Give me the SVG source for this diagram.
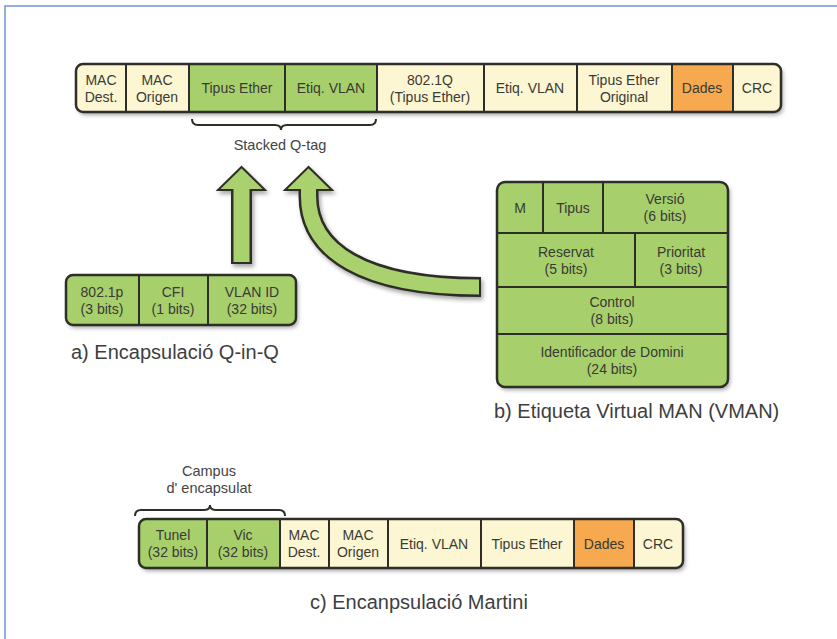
<svg xmlns="http://www.w3.org/2000/svg" width="837" height="639" viewBox="0 0 837 639">
<defs>
<style>
text{font-family:"Liberation Sans",Arial,Helvetica,sans-serif;fill:#3a3a36;}
.c{font-size:14px;text-anchor:middle;}
.lbl{font-size:20px;fill:#3e3e3e;}
.note{font-size:14.5px;text-anchor:middle;fill:#444;}
.frame{stroke:#2e2e28;stroke-width:2.5;}
.div{stroke:#2e2e28;stroke-width:2;fill:none;}
.cream{fill:#fdf6d2;}
.green{fill:#a7cf6c;}
.orange{fill:#f6a94e;}
.brace{fill:none;stroke:#2e2e28;stroke-width:2;}
.aout{fill:none;stroke:#2e2e28;stroke-linejoin:round;}
.ain{fill:none;stroke:#a9d26e;}
.ahead{fill:#a9d26e;stroke:#2e2e28;stroke-width:2;stroke-linejoin:miter;}
</style>
<filter id="sh" x="-10%" y="-10%" width="130%" height="140%">
<feDropShadow dx="2" dy="3" stdDeviation="2" flood-color="#000" flood-opacity="0.35"/>
</filter>
<clipPath id="clipBottom"><rect x="139" y="519" width="544" height="49" rx="7"/></clipPath>
</defs>
<rect width="837" height="639" fill="#ffffff"/>
<rect x="5" y="6" width="900" height="700" fill="none" stroke="#6d93dc" stroke-width="1.5"/>

<g id="frame-top">
<rect x="76" y="64" width="705" height="48" rx="7" class="cream" filter="url(#sh)"/>
<rect x="189" y="64" width="188" height="48" class="green"/>
<rect x="672" y="64" width="61" height="48" class="orange"/>
<rect x="76" y="64" width="705" height="48" rx="7" class="frame" fill="none"/>
<path class="div" d="M126 64V112M189 64V112M285 64V112M377 64V112M484 64V112M577 64V112M672 64V112M733 64V112"/>
<text class="c" x="101" y="84.5">MAC</text><text class="c" x="101" y="101.5">Dest.</text>
<text class="c" x="157" y="84.5">MAC</text><text class="c" x="157" y="101.5">Origen</text>
<text class="c" x="237" y="93">Tipus Ether</text>
<text class="c" x="331" y="93">Etiq. VLAN</text>
<text class="c" x="430" y="84.5">802.1Q</text><text class="c" x="430" y="101.5">(Tipus Ether)</text>
<text class="c" x="530" y="93">Etiq. VLAN</text>
<text class="c" x="624" y="84.5">Tipus Ether</text><text class="c" x="624" y="101.5">Original</text>
<text class="c" x="702" y="93">Dades</text>
<text class="c" x="757" y="93">CRC</text>
</g>

<g id="stacked-label">
<text class="note" x="280" y="150">Stacked Q-tag</text>
</g>

<g id="qinq">
<rect x="66" y="275" width="230" height="50" rx="7" class="green" filter="url(#sh)"/>
<rect x="66" y="275" width="230" height="50" rx="7" class="frame" fill="none"/>
<path class="div" d="M139 275V325M208 275V325"/>
<text class="c" x="102" y="296.5">802.1p</text><text class="c" x="102" y="313.5">(3 bits)</text>
<text class="c" x="173" y="296.5">CFI</text><text class="c" x="173" y="313.5">(1 bits)</text>
<text class="c" x="252" y="296.5">VLAN ID</text><text class="c" x="252" y="313.5">(32 bits)</text>
<text class="lbl" x="71" y="359">a) Encapsulació Q-in-Q</text>
</g>

<g id="vman">
<rect x="497" y="182" width="231" height="205" rx="8" class="green" filter="url(#sh)"/>
<rect x="497" y="182" width="231" height="205" rx="8" class="frame" fill="none"/>
<path class="div" d="M497 233H728M497 287H728M497 334H728M543 182V233M603 182V233M635 233V287"/>
<text class="c" x="520" y="213">M</text>
<text class="c" x="573" y="213">Tipus</text>
<text class="c" x="665" y="204">Versió</text><text class="c" x="665" y="221">(6 bits)</text>
<text class="c" x="566" y="256.5">Reservat</text><text class="c" x="566" y="273.5">(5 bits)</text>
<text class="c" x="681" y="256.5">Prioritat</text><text class="c" x="681" y="273.5">(3 bits)</text>
<text class="c" x="612" y="307">Control</text><text class="c" x="612" y="324">(8 bits)</text>
<text class="c" x="612" y="357">Identificador de Domini</text><text class="c" x="612" y="374">(24 bits)</text>
<text class="lbl" x="494" y="418">b) Etiqueta Virtual MAN (VMAN)</text>
</g>

<g id="campus-label">
<text class="note" x="209" y="476">Campus</text>
<text class="note" x="209" y="493">d' encapsulat</text>
</g>

<g id="frame-bottom">
<rect x="139" y="519" width="544" height="49" rx="7" class="cream" filter="url(#sh)"/>
<g clip-path="url(#clipBottom)">
<rect x="139" y="519" width="141" height="49" class="green"/>
<rect x="574" y="519" width="60" height="49" class="orange"/>
</g>
<rect x="139" y="519" width="544" height="49" rx="7" class="frame" fill="none"/>
<path class="div" d="M207 519V568M280 519V568M329 519V568M388 519V568M481 519V568M574 519V568M634 519V568"/>
<text class="c" x="173" y="540">Tunel</text><text class="c" x="173" y="557">(32 bits)</text>
<text class="c" x="243" y="540">Vic</text><text class="c" x="243" y="557">(32 bits)</text>
<text class="c" x="304" y="540">MAC</text><text class="c" x="304" y="557">Dest.</text>
<text class="c" x="358" y="540">MAC</text><text class="c" x="358" y="557">Origen</text>
<text class="c" x="434" y="549">Etiq. VLAN</text>
<text class="c" x="527" y="549">Tipus Ether</text>
<text class="c" x="604" y="549">Dades</text>
<text class="c" x="658" y="549">CRC</text>
<text class="lbl" x="310" y="609">c) Encanpsulació Martini</text>
</g>

<g id="connectors">
<path class="brace" d="M192 119Q192 125 198 125L275 125Q281 125 281 130Q281 125 287 125L370 125Q376 125 376 119"/>
<path class="brace" d="M135 516Q135 510 141 510L204 510Q210 510 210 505Q210 510 216 510L279 510Q285 510 285 516"/>
<g filter="url(#sh)">
<path class="aout" stroke-width="21" d="M241.5 264V188"/>
<path class="aout" stroke-width="20" d="M308.5 188V196C308.5 250 362 287 481 287"/>
<polygon class="ahead" points="241.5,167 218,190 265,190"/>
<polygon class="ahead" points="308.5,167 285,190 332,190"/>
<path class="ain" stroke-width="16" d="M241.5 262V186"/>
<path class="ain" stroke-width="15" d="M308.5 186V196C308.5 250 362 287 479 287"/>
</g>
</g>
</svg>
